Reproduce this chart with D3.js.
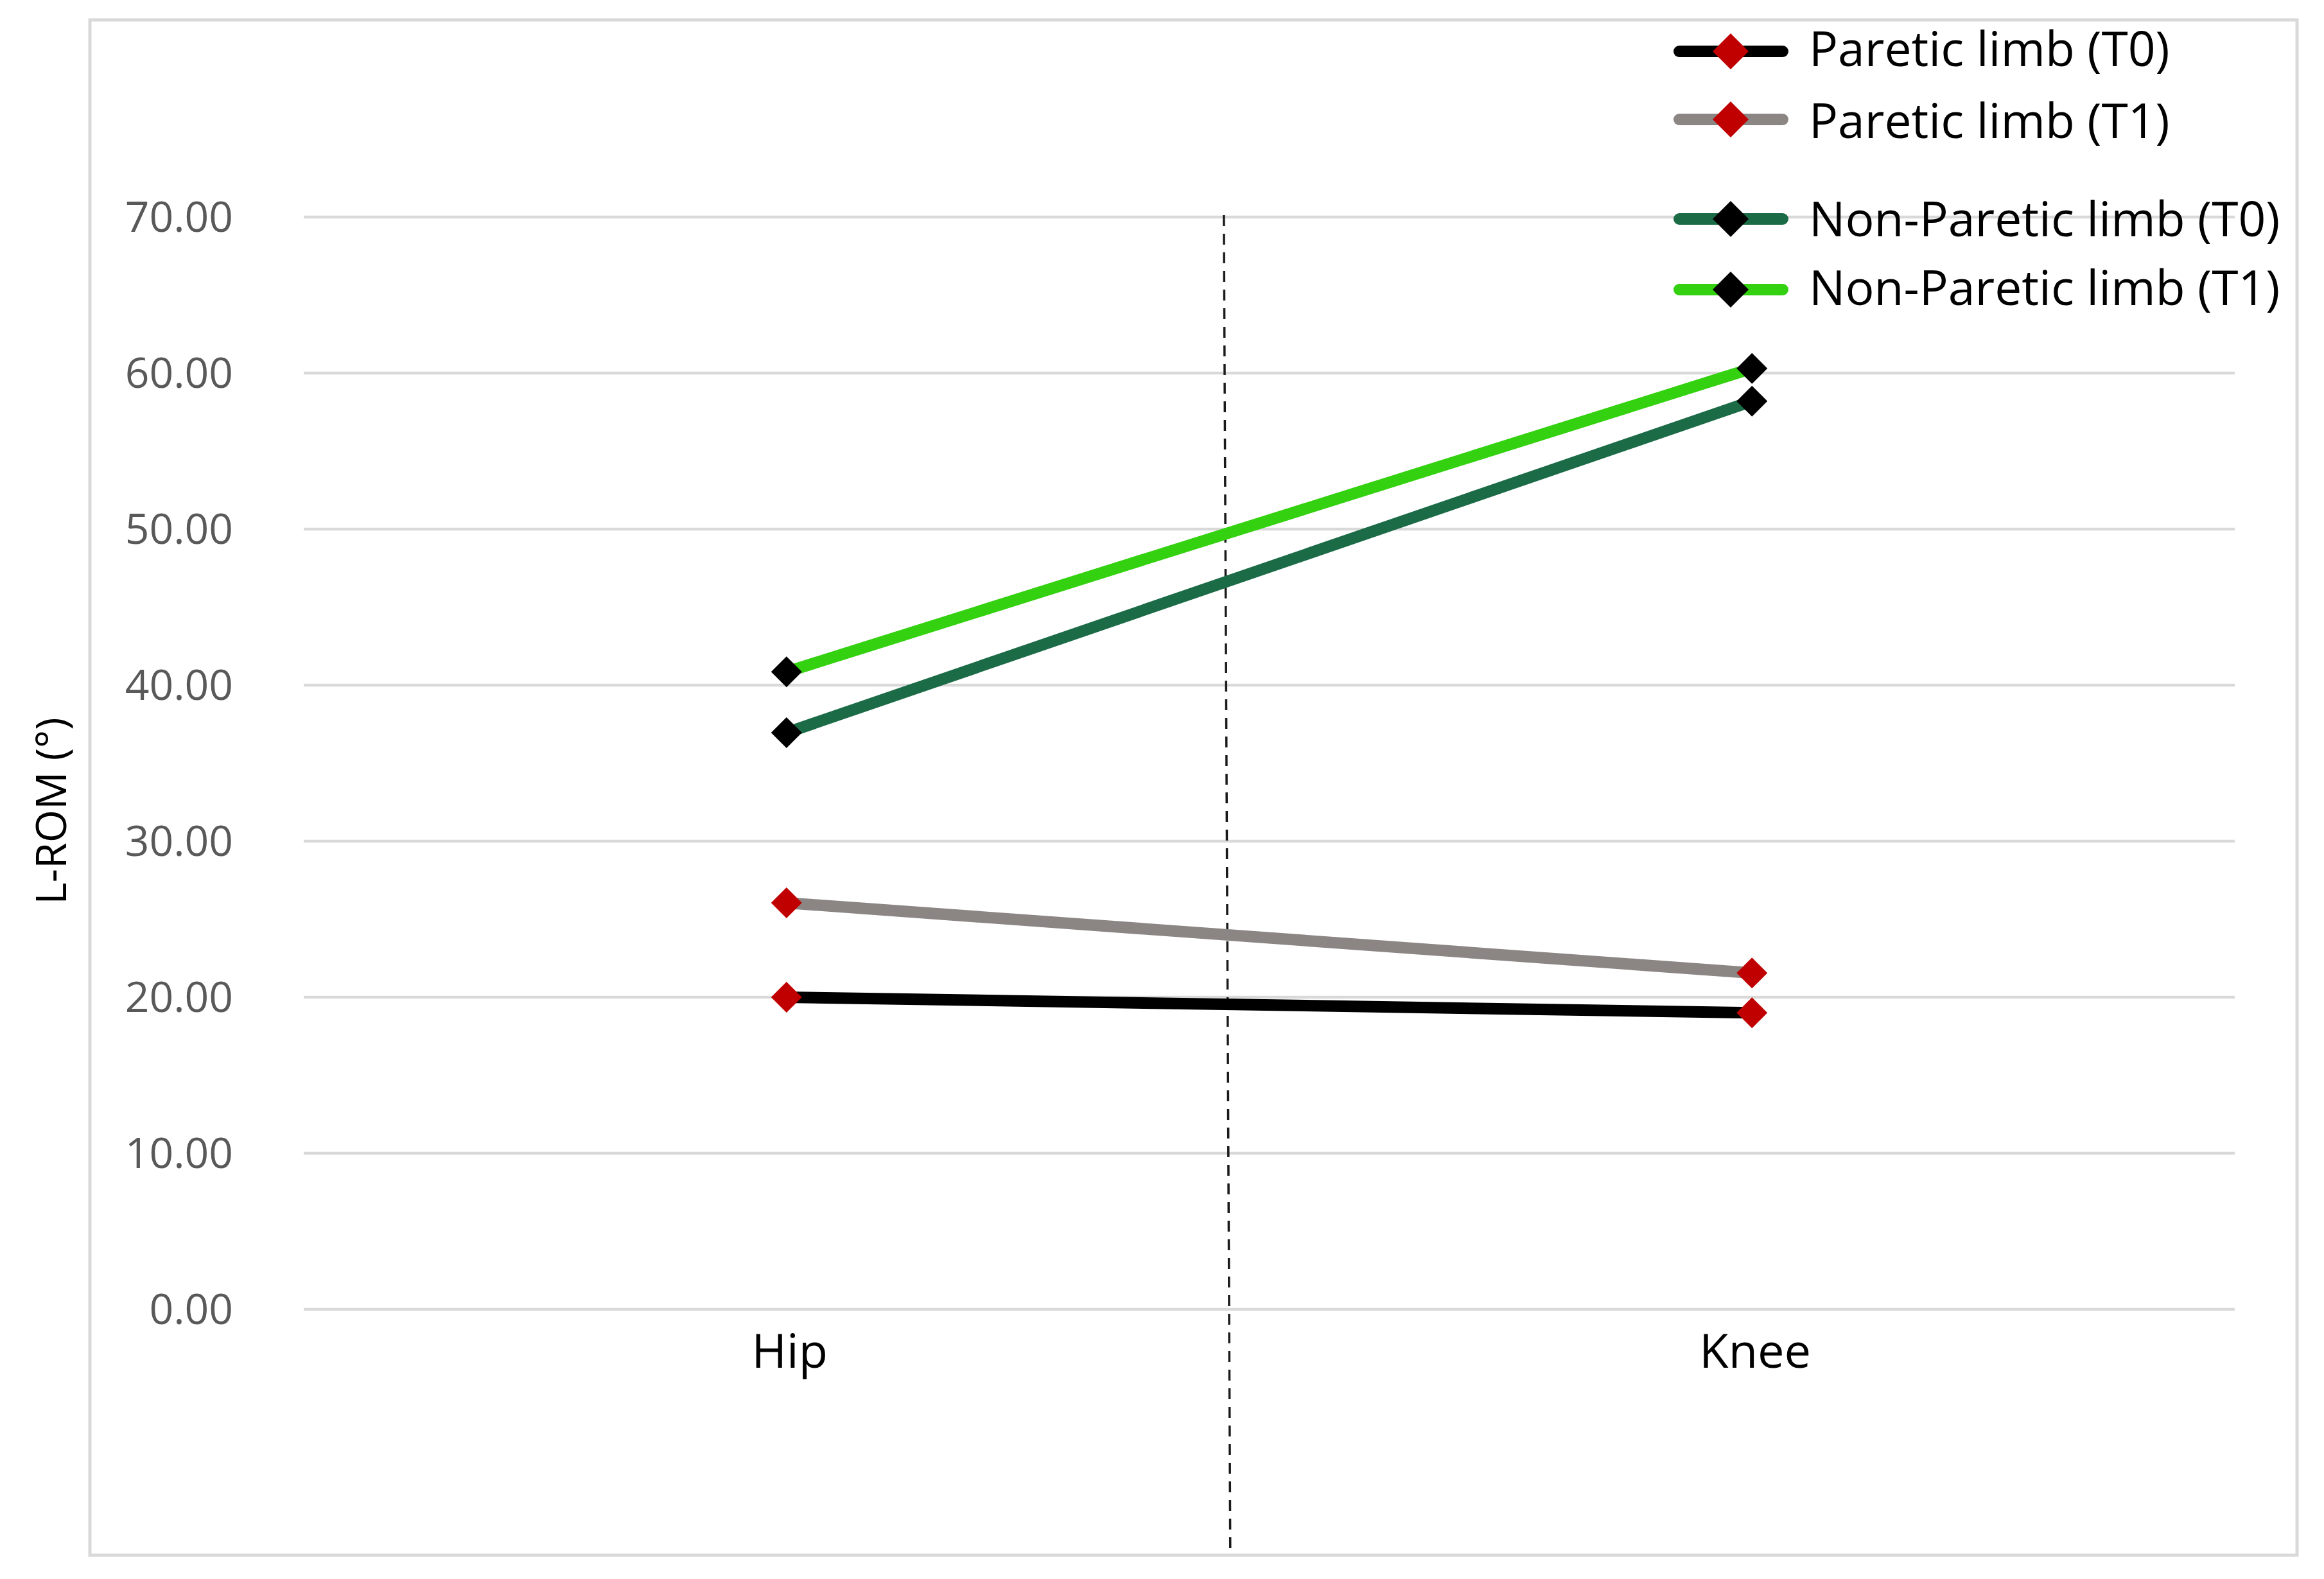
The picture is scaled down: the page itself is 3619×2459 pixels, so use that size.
<!DOCTYPE html>
<html>
<head>
<meta charset="utf-8">
<script src="https://cdn.jsdelivr.net/npm/d3@7"></script>
<style>
  html, body { margin: 0; padding: 0; background: #fff; }
  svg { display: block; }
  text { font-family: "Open Sans", "Noto Sans", sans-serif; }
</style>
</head>
<body>
<svg id="chart" width="3619" height="2459"></svg>
<script>
// ---- Data ----
const categories = ["Hip", "Knee"];
const pareticT0 = [20.0, 19.0];
const pareticT1 = [26.05, 21.55];
const nonPareticT0 = [36.95, 58.2];
const nonPareticT1 = [40.85, 60.3];
const seriesNames = ["Paretic limb (T0)", "Paretic limb (T1)", "Non-Paretic limb (T0)", "Non-Paretic limb (T1)"];
const yTickValues = [0, 10, 20, 30, 40, 50, 60, 70];
const yTitle = "L-ROM (°)";

// ---- Styles ----
const lineColors = ["#000000", "#8b8683", "#1b6b47", "#33d10f"];
const markerColors = ["#c00000", "#c00000", "#000000", "#000000"];
const seriesValues = [pareticT0, pareticT1, nonPareticT0, nonPareticT1];

const svg = d3.select("#chart");
const plot = { left: 473, right: 3480, top: 338, bottom: 2039 };

// outer border
svg.append("rect")
  .attr("x", 140).attr("y", 31).attr("width", 3437).attr("height", 2391)
  .attr("fill", "none").attr("stroke", "#d9d9d9").attr("stroke-width", 5);

const x = d3.scalePoint().domain(categories).range([plot.left, plot.right]).padding(0.5);
const y = d3.scaleLinear().domain([0, 70]).range([plot.bottom, plot.top]);

// gridlines
svg.append("g").selectAll("line").data(yTickValues).join("line")
  .attr("x1", plot.left).attr("x2", plot.right)
  .attr("y1", d => y(d)).attr("y2", d => y(d))
  .attr("stroke", "#d9d9d9").attr("stroke-width", 4.5);

// y tick labels
svg.append("g").selectAll("text").data(yTickValues).join("text")
  .attr("x", 363).attr("y", d => y(d) + 23)
  .attr("text-anchor", "end")
  .attr("font-size", 66).attr("fill", "#595959")
  .text(d => d3.format(".2f")(d));

// x labels
svg.append("g").selectAll("text").data(categories).join("text")
  .attr("x", d => x(d) + 5).attr("y", 2130)
  .attr("text-anchor", "middle")
  .attr("font-size", 74).attr("fill", "#000")
  .text(d => d);

// y title
svg.append("text")
  .attr("transform", "translate(103, 1263) rotate(-90)")
  .attr("text-anchor", "middle")
  .attr("font-size", 66).attr("fill", "#000")
  .text(yTitle);

// dashed separator between categories
const xHip = x(categories[0]), xKnee = x(categories[1]);
const sepTop = xHip + 0.453 * (xKnee - xHip);
svg.append("line")
  .attr("x1", sepTop).attr("y1", y(70) - 3)
  .attr("x2", sepTop + 10).attr("y2", 2423)
  .attr("stroke", "#1a1a1a").attr("stroke-width", 3.5)
  .attr("stroke-dasharray", "17,12");

// series lines
const lineGen = d3.line().x((d, i) => x(categories[i])).y(d => y(d));
const diamond = d3.symbol(d3.symbolSquare, 1152);
seriesValues.forEach((vals, s) => {
  svg.append("path").datum(vals)
    .attr("d", lineGen)
    .attr("fill", "none").attr("stroke", lineColors[s])
    .attr("stroke-width", 18);
});
seriesValues.forEach((vals, s) => {
  svg.append("g").selectAll("path").data(vals).join("path")
    .attr("d", diamond)
    .attr("transform", (d, i) => `translate(${x(categories[i])},${y(d)}) rotate(45)`)
    .attr("fill", markerColors[s]);
});

// legend
const legendLineY = [80, 186, 341, 451];
const legendTextY = [103, 215, 368, 475];
const legendDiamond = d3.symbol(d3.symbolSquare, 1568);
const lg = svg.append("g").selectAll("g").data(seriesNames).join("g");
lg.append("line")
  .attr("x1", 2615).attr("x2", 2776)
  .attr("y1", (d, i) => legendLineY[i]).attr("y2", (d, i) => legendLineY[i])
  .attr("stroke", (d, i) => lineColors[i]).attr("stroke-width", 18)
  .attr("stroke-linecap", "round");
lg.append("path")
  .attr("d", legendDiamond)
  .attr("transform", (d, i) => `translate(2695,${legendLineY[i]}) rotate(45)`)
  .attr("fill", (d, i) => markerColors[i]);
lg.append("text")
  .attr("x", 2817).attr("y", (d, i) => legendTextY[i])
  .attr("font-size", 75).attr("fill", "#000")
  .text(d => d);
</script>
</body>
</html>
